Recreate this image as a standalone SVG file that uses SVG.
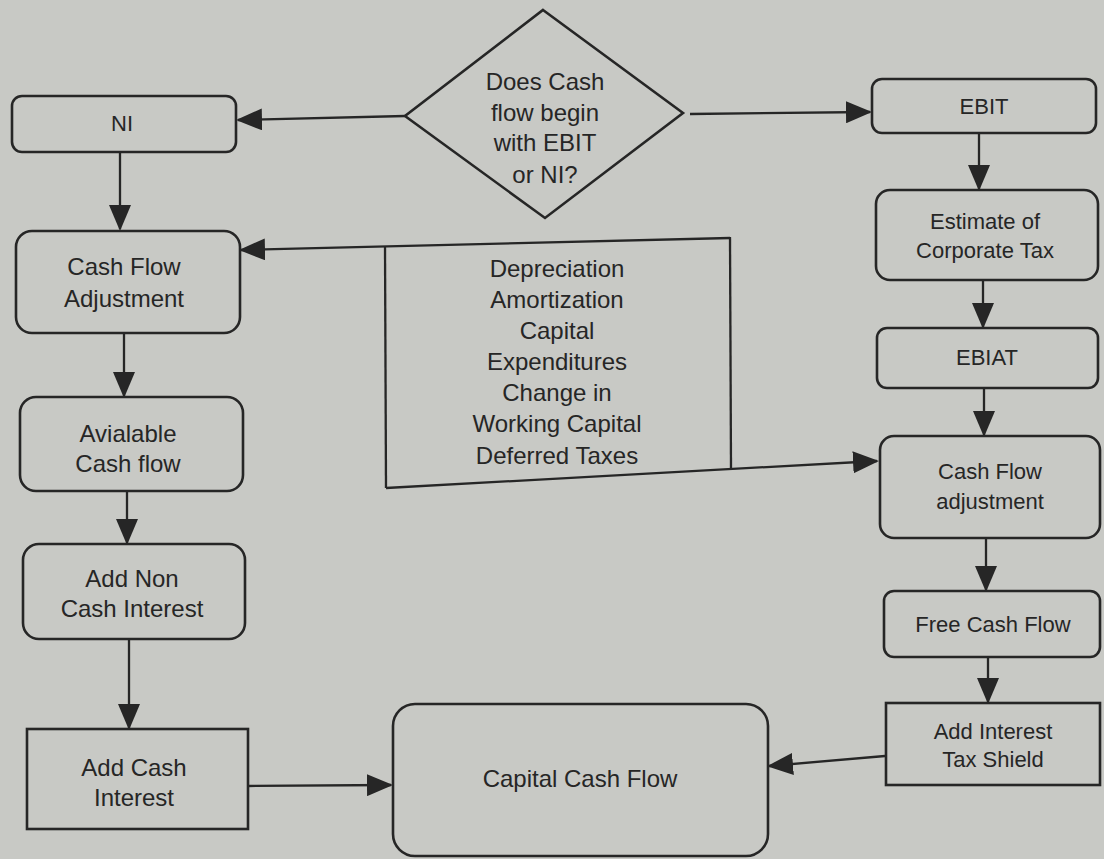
<svg xmlns="http://www.w3.org/2000/svg" width="1104" height="859" viewBox="0 0 1104 859">
<defs>
<style>
.bg{fill:#c8c9c5}
.box{fill:none;stroke:#262626;stroke-width:2.6}
.ln{fill:none;stroke:#262626;stroke-width:2.3}
.t{font-family:"Liberation Sans",Arial,sans-serif;font-size:22px;fill:#262626;text-anchor:middle}
.tl{font-family:"Liberation Sans",Arial,sans-serif;font-size:24px;fill:#262626;text-anchor:middle}
</style>
<marker id="ah" markerUnits="userSpaceOnUse" markerWidth="26" markerHeight="22" refX="24" refY="11" orient="auto">
<path d="M0,0 L26,11 L0,22 Z" fill="#262626"/>
</marker>
</defs>
<rect class="bg" x="0" y="0" width="1104" height="859"/>

<g id="connectors">
<path class="ln" d="M405,116 L238,120" marker-end="url(#ah)"/>
<path class="ln" d="M690,114 L870,112" marker-end="url(#ah)"/>
<path class="ln" d="M120,153 L120,229" marker-end="url(#ah)"/>
<path class="ln" d="M124,334 L124,396" marker-end="url(#ah)"/>
<path class="ln" d="M127,491 L127,543" marker-end="url(#ah)"/>
<path class="ln" d="M129,640 L129,728" marker-end="url(#ah)"/>
<path class="ln" d="M248,786 L391,785" marker-end="url(#ah)"/>
<path class="ln" d="M730,238 L241,250" marker-end="url(#ah)"/>
<path class="ln" d="M385,246 L386,488"/>
<path class="ln" d="M730,237 L731,469"/>
<path class="ln" d="M386,488 L877,461" marker-end="url(#ah)"/>
<path class="ln" d="M979,133 L979,189" marker-end="url(#ah)"/>
<path class="ln" d="M983,280 L983,327" marker-end="url(#ah)"/>
<path class="ln" d="M984,388 L984,435" marker-end="url(#ah)"/>
<path class="ln" d="M986,538 L986,590" marker-end="url(#ah)"/>
<path class="ln" d="M988,657 L988,702" marker-end="url(#ah)"/>
<path class="ln" d="M885,756 L769,766" marker-end="url(#ah)"/>
</g>

<g id="decision">
<polygon class="box" points="543,10 683,113 545,218 405,116"/>
<text class="tl" x="545" y="90">Does Cash</text>
<text class="tl" x="545" y="121">flow begin</text>
<text class="tl" x="545" y="151">with EBIT</text>
<text class="tl" x="545" y="183">or NI?</text>
</g>

<g id="ni">
<rect class="box" x="12" y="96" width="224" height="56" rx="10"/>
<text class="t" x="122" y="131">NI</text>
</g>

<g id="cfa-left">
<rect class="box" x="16" y="231" width="224" height="102" rx="16"/>
<text class="tl" x="124" y="275">Cash Flow</text>
<text class="tl" x="124" y="307">Adjustment</text>
</g>

<g id="available">
<rect class="box" x="20" y="397" width="223" height="94" rx="16"/>
<text class="tl" x="128" y="442">Avialable</text>
<text class="tl" x="128" y="472">Cash flow</text>
</g>

<g id="noncash">
<rect class="box" x="23" y="544" width="222" height="95" rx="16"/>
<text class="tl" x="132" y="587">Add Non</text>
<text class="tl" x="132" y="617">Cash Interest</text>
</g>

<g id="cashint">
<rect class="box" x="27" y="729" width="221" height="100"/>
<text class="tl" x="134" y="776">Add Cash</text>
<text class="tl" x="134" y="806">Interest</text>
</g>

<g id="adjustments">
<text class="tl" x="557" y="277">Depreciation</text>
<text class="tl" x="557" y="308">Amortization</text>
<text class="tl" x="557" y="339">Capital</text>
<text class="tl" x="557" y="370">Expenditures</text>
<text class="tl" x="557" y="401">Change in</text>
<text class="tl" x="557" y="432">Working Capital</text>
<text class="tl" x="557" y="464">Deferred Taxes</text>
</g>

<g id="capital">
<rect class="box" x="393" y="704" width="375" height="152" rx="22"/>
<text class="tl" x="580" y="787">Capital Cash Flow</text>
</g>

<g id="ebit">
<rect class="box" x="872" y="79" width="224" height="54" rx="10"/>
<text class="t" x="984" y="114">EBIT</text>
</g>

<g id="tax">
<rect class="box" x="876" y="190" width="222" height="90" rx="14"/>
<text class="t" x="985" y="229">Estimate of</text>
<text class="t" x="985" y="258">Corporate Tax</text>
</g>

<g id="ebiat">
<rect class="box" x="877" y="328" width="221" height="60" rx="10"/>
<text class="t" x="987" y="365">EBIAT</text>
</g>

<g id="cfa-right">
<rect class="box" x="880" y="436" width="220" height="102" rx="14"/>
<text class="t" x="990" y="479">Cash Flow</text>
<text class="t" x="990" y="509">adjustment</text>
</g>

<g id="fcf">
<rect class="box" x="884" y="591" width="216" height="66" rx="10"/>
<text class="t" x="993" y="632">Free Cash Flow</text>
</g>

<g id="shield">
<rect class="box" x="886" y="703" width="214" height="82"/>
<text class="t" x="993" y="739">Add Interest</text>
<text class="t" x="993" y="767">Tax Shield</text>
</g>
</svg>
